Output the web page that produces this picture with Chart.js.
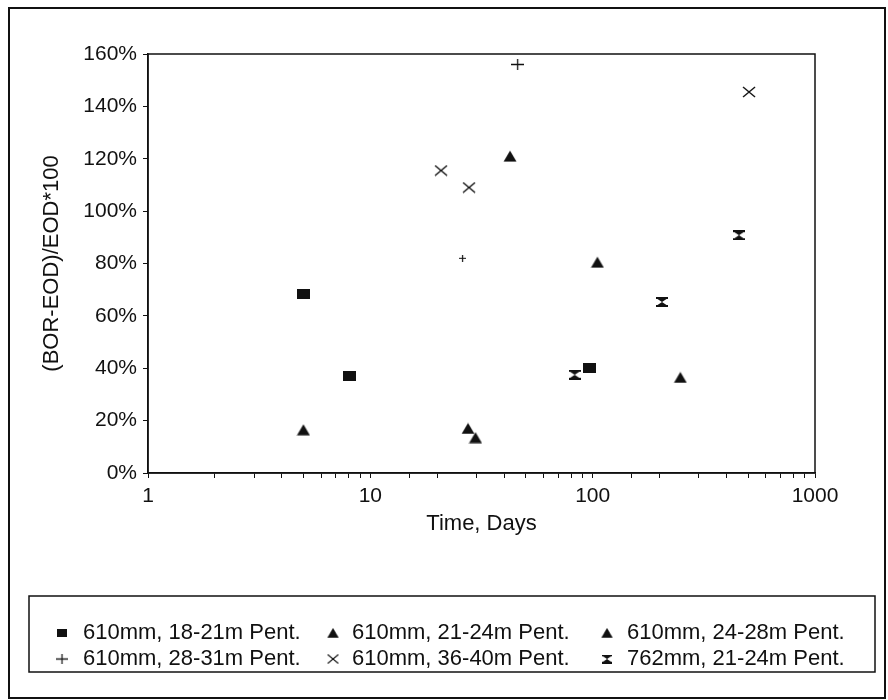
<!DOCTYPE html>
<html>
<head>
<meta charset="utf-8">
<title>BOR-EOD vs Time</title>
<script src="https://cdn.jsdelivr.net/npm/chart.js@4.4.1/dist/chart.umd.min.js"></script>
<style>
  html, body { margin: 0; padding: 0; background: #fff; }
  #wrap { width: 888px; height: 700px; }
</style>
</head>
<body>
<div id="wrap"><canvas id="chart" width="888" height="700"></canvas></div>
<script>
// Data (x = days, y = percent)
const sq18X = [5, 8.1, 97];
const sq18Y = [68.5, 37, 40];
const tri21X = [5, 27.5, 29.7];
const tri21Y = [16.5, 17, 13.5];
const tri24X = [42.5, 105, 248];
const tri24Y = [121, 80.5, 36.5];
const plusX = [46, 26];
const plusY = [156, 82];
const crossX = [20.8, 27.8, 505];
const crossY = [115.5, 109, 145.5];
const hgX = [83, 205, 455];
const hgY = [37.5, 65.3, 90.8];

const seriesLabels = [
    '610mm, 18-21m Pent.',
    '610mm, 21-24m Pent.',
    '610mm, 24-28m Pent.',
    '610mm, 28-31m Pent.',
    '610mm, 36-40m Pent.',
    '762mm, 21-24m Pent.'
];
const yTicks = [0, 20, 40, 60, 80, 100, 120, 140, 160];

const INK = '#111';

function makeMarker(w, h, draw) {
    const c = document.createElement('canvas');
    c.width = w;
    c.height = h;
    const g = c.getContext('2d');
    g.fillStyle = INK;
    g.strokeStyle = INK;
    draw(g, w, h);
    return c;
}

// Marker glyphs
const rectMark = makeMarker(13, 10, (g, w, h) => g.fillRect(0, 0, w, h));
const triMark = makeMarker(14, 12, (g) => {
    g.beginPath();
    g.moveTo(7, 0.5);
    g.lineTo(13.5, 11.5);
    g.lineTo(0.5, 11.5);
    g.closePath();
    g.fill();
});
const plusBig = makeMarker(13, 11, (g) => {
    g.lineWidth = 1.3;
    g.beginPath();
    g.moveTo(0, 5.5); g.lineTo(13, 5.5);
    g.moveTo(6.5, 0); g.lineTo(6.5, 11);
    g.stroke();
});
const plusSmall = makeMarker(7, 7, (g) => {
    g.lineWidth = 1.2;
    g.beginPath();
    g.moveTo(0, 3.5); g.lineTo(7, 3.5);
    g.moveTo(3.5, 0); g.lineTo(3.5, 7);
    g.stroke();
});
const crossMark = makeMarker(14, 12, (g) => {
    g.lineWidth = 1.4;
    g.beginPath();
    g.moveTo(1, 1); g.lineTo(13, 11);
    g.moveTo(13, 1); g.lineTo(1, 11);
    g.stroke();
});
const hourMark = makeMarker(12, 10, (g) => {
    g.fillRect(0, 0, 12, 2);
    g.fillRect(0, 8, 12, 2);
    g.beginPath();
    g.moveTo(1.5, 2); g.lineTo(10.5, 2); g.lineTo(6, 5); g.closePath();
    g.moveTo(6, 5); g.lineTo(10.5, 8); g.lineTo(1.5, 8); g.closePath();
    g.fill();
});

function pts(xs, ys) {
    return xs.map((x, i) => ({ x: x, y: ys[i] }));
}

function makeSet(label, xs, ys, style) {
    return {
        label: label,
        data: pts(xs, ys),
        pointStyle: style,
        pointRadius: 6,
        pointHoverRadius: 6,
        borderColor: INK,
        backgroundColor: INK,
        showLine: false
    };
}

const legendStyles = [rectMark, triMark, triMark, plusBig, crossMark, hourMark];

// Frame, plot box and legend box
const framePlugin = {
    id: 'frame',
    beforeDraw(chart) {
        const ctx = chart.ctx;
        ctx.save();
        ctx.fillStyle = '#fff';
        ctx.fillRect(0, 0, chart.width, chart.height);
        ctx.restore();
    },
    afterDraw(chart) {
        const ctx = chart.ctx;
        const a = chart.chartArea;
        ctx.save();
        ctx.strokeStyle = INK;
        ctx.lineWidth = 1.5;
        ctx.strokeRect(a.left, a.top, a.right - a.left, a.bottom - a.top);
        ctx.lineWidth = 2;
        ctx.strokeRect(9, 8, 876, 690);
        ctx.lineWidth = 1.5;
        ctx.strokeRect(29, 596, 846, 76);

        const markX = [62, 333, 607];
        const textX = [83, 352, 627];
        const rowY = [633, 659];
        ctx.font = '22px "Liberation Sans", Arial, sans-serif';
        ctx.fillStyle = INK;
        ctx.textBaseline = 'middle';
        ctx.textAlign = 'left';
        seriesLabels.forEach((lab, i) => {
            const col = i % 3;
            const row = Math.floor(i / 3);
            const img = legendStyles[i];
            const s = i === 0 ? 0.8 : 0.9;
            const w = img.width * s, h = img.height * s;
            ctx.drawImage(img, markX[col] - w / 2, rowY[row] - h / 2, w, h);
            ctx.fillText(lab, textX[col], rowY[row]);
        });
        ctx.restore();
    }
};

Chart.defaults.font.family = '"Liberation Sans", Arial, sans-serif';
Chart.defaults.font.size = 20;
Chart.defaults.color = INK;

new Chart(document.getElementById('chart'), {
    type: 'scatter',
    data: {
        datasets: [
            makeSet(seriesLabels[0], sq18X, sq18Y, rectMark),
            makeSet(seriesLabels[1], tri21X, tri21Y, triMark),
            makeSet(seriesLabels[2], tri24X, tri24Y, triMark),
            makeSet(seriesLabels[3], plusX, plusY, [plusBig, plusSmall]),
            makeSet(seriesLabels[4], crossX, crossY, crossMark),
            makeSet(seriesLabels[5], hgX, hgY, hourMark)
        ]
    },
    options: {
        responsive: false,
        animation: false,
        layout: { padding: { top: 54, right: 73, left: 0, bottom: 0 } },
        plugins: {
            legend: { display: false },
            tooltip: { enabled: false }
        },
        scales: {
            x: {
                type: 'logarithmic',
                min: 1,
                max: 1000,
                afterFit: function(scale) { scale.height = 227; },
                grid: { drawOnChartArea: false, drawTicks: true, tickLength: 5, color: INK },
                border: { display: true, color: INK, width: 1.5 },
                ticks: {
                    autoSkip: false,
                    maxRotation: 0,
                    padding: 6,
                    font: { size: 21 },
                    callback: function(value) {
                        const l = Math.log10(value);
                        return Math.abs(l - Math.round(l)) < 1e-9 ? String(value) : '';
                    }
                },
                title: {
                    display: true,
                    text: 'Time, Days',
                    font: { size: 22 },
                    padding: { top: 0, bottom: 163 }
                }
            },
            y: {
                min: 0,
                max: 160,
                afterFit: function(scale) { scale.width = 148; },
                afterBuildTicks: function(scale) {
                    scale.ticks = yTicks.map(v => ({ value: v }));
                },
                grid: { drawOnChartArea: false, drawTicks: true, tickLength: 5, color: INK },
                border: { display: true, color: INK, width: 1.5 },
                ticks: {
                    padding: 6,
                    font: { size: 21 },
                    callback: function(value) { return value + '%'; }
                },
                title: {
                    display: true,
                    text: '(BOR-EOD)/EOD*100',
                    font: { size: 22 },
                    padding: { top: 39, bottom: 0 }
                }
            }
        }
    },
    plugins: [framePlugin]
});
</script>
</body>
</html>
